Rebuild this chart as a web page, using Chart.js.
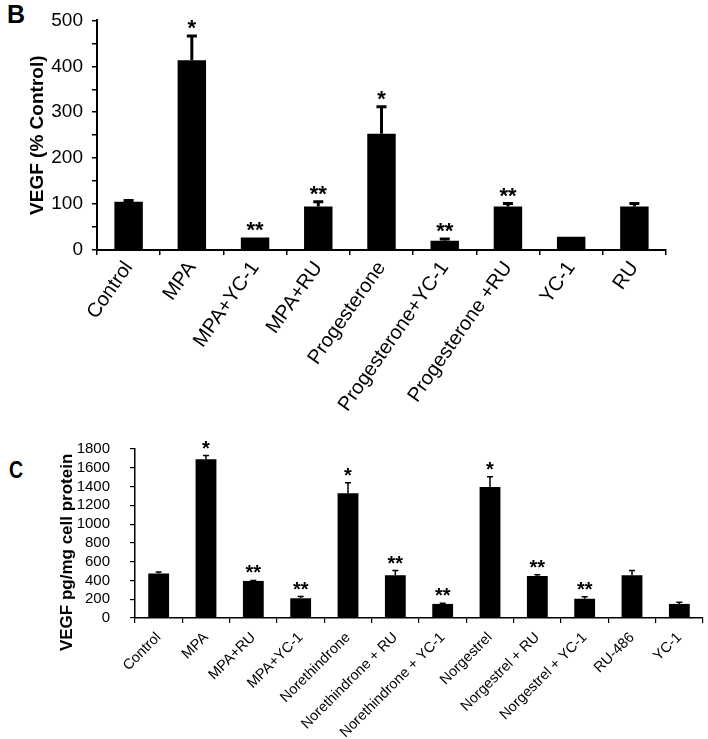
<!DOCTYPE html>
<html>
<head>
<meta charset="utf-8">
<script src="https://cdn.jsdelivr.net/npm/chart.js@4"></script>
<style>
  body { margin: 0; background: #fff; width: 708px; height: 739px; position: relative; overflow: hidden; font-family: "Liberation Sans", Arial, sans-serif; }
  canvas { position: absolute; left: 0; }
  #chartB { top: 0; }
  #chartC { top: 420px; }
  .panel { position: absolute; font-weight: bold; color: #000; }
</style>
</head>
<body>
<div class="panel" style="left:7px; top:0px; font-size:25px;">B</div>
<div class="panel" style="left:9px; top:457px; font-size:23px; transform: scaleX(0.85); transform-origin: 0 0;">C</div>
<canvas id="chartB" width="708" height="450"></canvas>
<canvas id="chartC" width="708" height="319"></canvas>
<script>
// Panel B : VEGF (% Control)
const labelsB = ['Control', 'MPA', 'MPA+YC-1', 'MPA+RU', 'Progesterone', 'Progesterone+YC-1', 'Progesterone +RU', 'YC-1', 'RU'];
const meanB = [105, 413, 27, 95, 253, 20, 95, 29, 95];
const errB = [3, 53, 0, 10, 59, 4, 6, 0, 6];
const starsB = ['', '*', '**', '**', '*', '**', '**', '', ''];

// Panel C : VEGF pg/mg cell protein
const labelsC = ['Control', 'MPA', 'MPA+RU', 'MPA+YC-1', 'Norethindrone', 'Norethindrone + RU', 'Norethindrone + YC-1', 'Norgestrel', 'Norgestrel + RU', 'Norgestrel + YC-1', 'RU-486', 'YC-1'];
const meanC = [475, 1690, 395, 210, 1330, 455, 150, 1395, 448, 205, 455, 150];
const errC = [15, 40, 5, 18, 110, 50, 8, 110, 12, 22, 50, 18];
const starsC = ['', '*', '**', '**', '*', '**', '**', '*', '**', '**', '', ''];

const FONT = '"Liberation Sans", Arial, sans-serif';
const NARROW = '"Liberation Sans Narrow", "Arial Narrow", "Liberation Sans", sans-serif';

// barres d'erreur + astérisques
const errorBars = {
    id: 'errorBars',
    afterDatasetsDraw(chart, args, opts) {
        const ctx = chart.ctx;
        const y = chart.scales.y;
        const values = chart.data.datasets[0].data;
        ctx.save();
        ctx.strokeStyle = '#000';
        ctx.fillStyle = '#000';
        ctx.lineWidth = opts.lineWidth;
        chart.getDatasetMeta(0).data.forEach((bar, i) => {
            const e = opts.err[i];
            const top = y.getPixelForValue(values[i] + e);
            if (e > 0) {
                ctx.beginPath();
                ctx.moveTo(bar.x, y.getPixelForValue(values[i]));
                ctx.lineTo(bar.x, top);
                ctx.moveTo(bar.x - opts.cap / 2, top);
                ctx.lineTo(bar.x + opts.cap / 2, top);
                ctx.stroke();
            }
            if (opts.stars[i]) {
                ctx.font = opts.font;
                ctx.textAlign = 'center';
                ctx.textBaseline = 'alphabetic';
                ctx.fillText(opts.stars[i], bar.x, top - opts.gap);
            }
        });
        ctx.restore();
    }
};

new Chart(document.getElementById('chartB'), {
    type: 'bar',
    data: {
        labels: labelsB,
        datasets: [{
            data: meanB,
            backgroundColor: '#000',
            borderWidth: 0,
            barPercentage: 0.45,
            categoryPercentage: 1
        }]
    },
    plugins: [errorBars],
    options: {
        responsive: false,
        animation: false,
        layout: { padding: { top: 20, right: 42, left: 0, bottom: 0 } },
        plugins: {
            legend: { display: false },
            tooltip: { enabled: false },
            errorBars: { err: errB, stars: starsB, lineWidth: 3, cap: 10, gap: 1, font: 'bold 22px ' + FONT }
        },
        scales: {
            x: {
                afterFit: s => { s.height = 200; },
                border: { display: true, color: '#000', width: 2 },
                grid: { offset: true, drawOnChartArea: false, color: '#000', lineWidth: 1.5, tickLength: 5 },
                ticks: { color: '#000', font: { family: FONT, size: 20 }, minRotation: 55, maxRotation: 55, autoSkip: false, padding: 2 }
            },
            y: {
                min: 0,
                max: 500,
                afterFit: s => { s.width = 97; },
                border: { display: true, color: '#000', width: 2 },
                grid: { drawOnChartArea: false, color: '#000', lineWidth: 1.5, tickLength: 5 },
                ticks: {
                    stepSize: 50,
                    autoSkip: false,
                    color: '#000',
                    padding: 9,
                    font: { family: FONT, size: 19 },
                    callback: v => (v % 100 === 0 ? v : '')
                },
                title: {
                    display: true,
                    text: 'VEGF (% Control)',
                    color: '#000',
                    font: { family: FONT, size: 19, weight: 'bold' },
                    padding: { top: 26, bottom: 0 }
                }
            }
        }
    }
});

new Chart(document.getElementById('chartC'), {
    type: 'bar',
    data: {
        labels: labelsC,
        datasets: [{
            data: meanC,
            backgroundColor: '#000',
            borderWidth: 0,
            barPercentage: 0.44,
            categoryPercentage: 1
        }]
    },
    plugins: [errorBars],
    options: {
        responsive: false,
        animation: false,
        layout: { padding: { top: 19, right: 5, left: 0, bottom: 0 } },
        plugins: {
            legend: { display: false },
            tooltip: { enabled: false },
            errorBars: { err: errC, stars: starsC, lineWidth: 1.5, cap: 6, gap: 1, font: 'bold 20px ' + FONT }
        },
        scales: {
            x: {
                afterFit: s => { s.height = 121; },
                border: { display: true, color: '#000', width: 1.5 },
                grid: { offset: true, drawOnChartArea: false, color: '#000', lineWidth: 1.2, tickLength: 5 },
                ticks: { color: '#000', font: { family: FONT, size: 14.5 }, minRotation: 45, maxRotation: 45, autoSkip: false, padding: 6 }
            },
            y: {
                min: 0,
                max: 1800,
                afterFit: s => { s.width = 135; },
                border: { display: true, color: '#000', width: 1.5 },
                grid: { drawOnChartArea: false, color: '#000', lineWidth: 1.2, tickLength: 5 },
                ticks: { stepSize: 200, autoSkip: false, color: '#000', padding: 20, font: { family: NARROW, size: 15 }, callback: v => String(v) },
                title: {
                    display: true,
                    text: 'VEGF pg/mg cell protein        ',
                    color: '#000',
                    font: { family: NARROW, size: 17, weight: 'bold' },
                    padding: { top: 57, bottom: 0 }
                }
            }
        }
    }
});
</script>
</body>
</html>
